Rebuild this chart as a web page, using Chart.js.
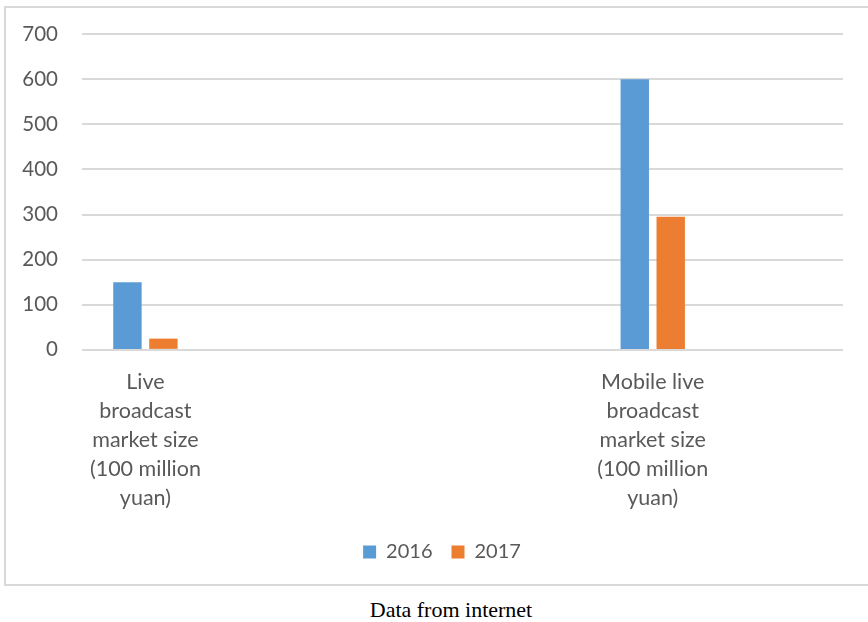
<!DOCTYPE html>
<html>
<head>
<meta charset="utf-8">
<script src="https://cdn.jsdelivr.net/npm/chart.js@4"></script>
<style>
  html, body { margin: 0; padding: 0; background: #fff; }
  body { width: 868px; height: 622px; position: relative; overflow: hidden; }
  #box { position: absolute; left: 4px; top: 6px; width: 880px; height: 580px; border: 2px solid #d9d9d9; box-sizing: border-box; }
  #chart { position: absolute; left: 6px; top: 8px; }
  #caption { position: absolute; left: 0; width: 902px; top: 597px; text-align: center;
             font-family: "Liberation Serif", "DejaVu Serif", serif; font-size: 22px; color: #000; }
</style>
</head>
<body>
<div id="box"></div>
<canvas id="chart" width="872" height="576"></canvas>
<div id="caption">Data from internet</div>
<script>
// categories (the source chart keeps empty slots between the two groups)
const categories = [
    ["Live", "broadcast", "market size", "(100 million", "yuan)"],
    "", "", "",
    ["Mobile live", "broadcast", "market size", "(100 million", "yuan)"],
    ""
];
const seriesNames = ["2016", "2017"];
const values2016 = [150, null, null, null, 600, null];
const values2017 = [25, null, null, null, 295, null];
const yTicks = [0, 100, 200, 300, 400, 500, 600, 700];

const textColor = "#595959";
const fontFamily = "Lato, 'Open Sans', sans-serif";

new Chart(document.getElementById("chart"), {
    type: "bar",
    data: {
        labels: categories,
        datasets: [
            { label: seriesNames[0], data: values2016, backgroundColor: "#5B9BD5",
              categoryPercentage: 0.567, barPercentage: 0.79 },
            { label: seriesNames[1], data: values2017, backgroundColor: "#ED7D31",
              categoryPercentage: 0.567, barPercentage: 0.79 }
        ]
    },
    options: {
        responsive: false,
        animation: false,
        layout: { padding: { top: 26, right: 0, bottom: 12, left: 0 } },
        plugins: {
            tooltip: { enabled: false },
            legend: {
                position: "bottom",
                labels: {
                    boxWidth: 13, boxHeight: 13, padding: 19,
                    color: textColor,
                    font: { family: fontFamily, size: 20 }
                }
            }
        },
        scales: {
            x: {
                grid: { display: false },
                border: { display: false },
                ticks: {
                    color: textColor,
                    maxRotation: 0, autoSkip: false,
                    padding: 10,
                    font: { family: fontFamily, size: 21.5, lineHeight: 1.35 }
                }
            },
            y: {
                min: 0, max: 700,
                afterBuildTicks: (scale) => { scale.ticks = yTicks.map(v => ({ value: v })); },
                afterFit: (scale) => {
                    scale.width = 76;
                    scale.paddingTop = 0;
                    scale.paddingBottom = 0;
                },
                grid: { color: "#d9d9d9", lineWidth: 2, drawTicks: false },
                border: { display: false },
                ticks: {
                    color: textColor,
                    padding: 24,
                    font: { family: fontFamily, size: 20.5 }
                }
            },
            // empty right-hand margin so the legend is centred on the whole frame
            yRight: {
                position: "right",
                grid: { display: false },
                border: { display: false },
                ticks: { display: false },
                afterFit: (scale) => {
                    scale.width = 35;
                    scale.paddingTop = 0;
                    scale.paddingBottom = 0;
                }
            }
        }
    }
});
</script>
</body>
</html>
